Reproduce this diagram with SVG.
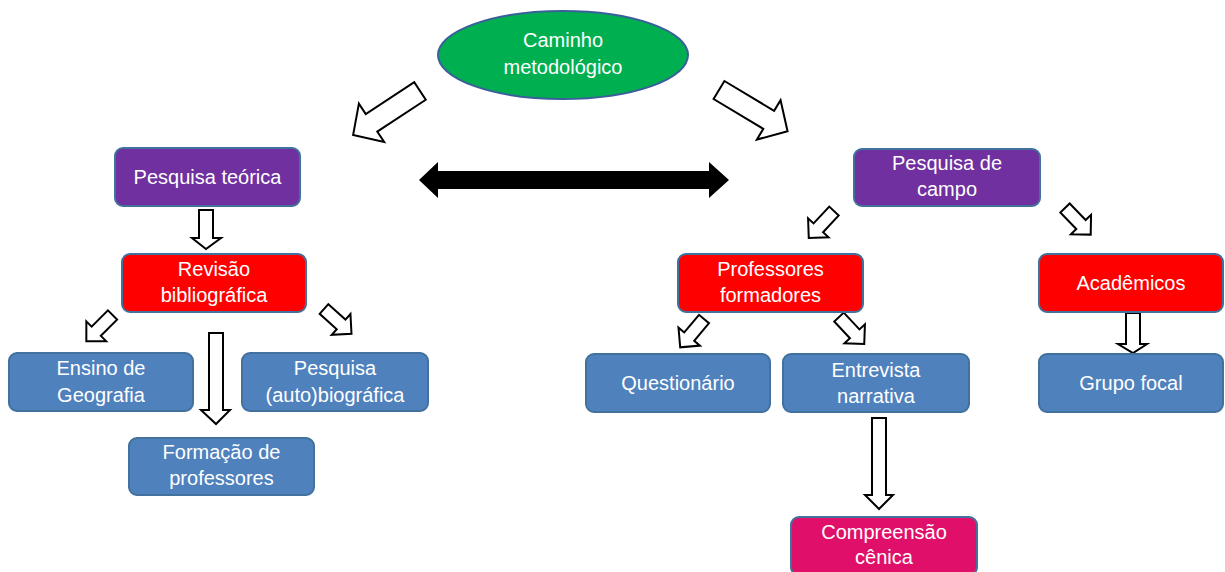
<svg xmlns="http://www.w3.org/2000/svg" width="1225" height="572" viewBox="0 0 1225 572">
<style>
.box{stroke:#41719C;stroke-width:2}
.pur{fill:#7030A0}
.red{fill:#FF0000}
.blu{fill:#4F81BD}
.mag{fill:#E0106A}
.t{font-family:"Liberation Sans",Arial,sans-serif;font-size:20px;fill:#FFFFFF;text-anchor:middle}
.ba{fill:#FFFFFF;stroke:#000000;stroke-width:2;stroke-linejoin:miter}
</style>
<defs>
<path id="big" d="M0,-10.5 H58 V-23 L80,0 L58,23 V10.5 H0 Z"/>
<path id="small" d="M0,-6.5 H23 V-14 L37,0 L23,14 V6.5 H0 Z"/>
</defs>
<rect width="1225" height="572" fill="#FFFFFF"/>
<g id="connectors">
<use href="#big" class="ba" transform="translate(420,91) rotate(146.7)"/>
<use href="#big" class="ba" transform="translate(719,90) rotate(31)"/>
<path d="M419,180 L438,162 V171 H709 V162 L729,180 L709,198 V189 H438 V198 Z" fill="#000000"/>
<path class="ba" d="M199,210 H213 V238 H221 L206,249 L192,238 H199 Z"/>
<use href="#small" class="ba" transform="translate(112.5,315) rotate(135)"/>
<use href="#small" class="ba" transform="translate(324,309) rotate(42)"/>
<path class="ba" d="M209,333 H223 V410 H230 L216,424 L201,410 H209 Z"/>
<use href="#small" class="ba" transform="translate(834,211) rotate(133)"/>
<use href="#small" class="ba" transform="translate(1065,208) rotate(46)"/>
<use href="#small" class="ba" transform="translate(704,319) rotate(130)"/>
<use href="#small" class="ba" transform="translate(839,317) rotate(47)"/>
<path class="ba" d="M1126,313 H1140 V344 H1147 L1133,353 L1118,344 H1126 Z"/>
<path class="ba" d="M872,418 H886 V495 H893 L879,509 L865,495 H872 Z"/>
</g>
<g id="n_caminho">
<ellipse cx="563" cy="55" rx="125" ry="44" fill="#00B050" stroke="#3A5F9A" stroke-width="2"/>
<text class="t" x="563" y="47">Caminho</text>
<text class="t" x="563" y="74">metodológico</text>
</g>
<g id="n_teorica">
<rect class="box pur" x="115" y="148" width="185" height="58" rx="8"/>
<text class="t" x="207.5" y="184">Pesquisa teórica</text>
</g>
<g id="n_revisao">
<rect class="box red" x="122" y="254" width="184" height="58" rx="8"/>
<text class="t" x="214" y="276">Revisão</text>
<text class="t" x="214" y="302">bibliográfica</text>
</g>
<g id="n_ensino">
<rect class="box blu" x="9" y="353" width="184" height="58" rx="8"/>
<text class="t" x="101" y="375">Ensino de</text>
<text class="t" x="101" y="402">Geografia</text>
</g>
<g id="n_autobio">
<rect class="box blu" x="242" y="353" width="186" height="58" rx="8"/>
<text class="t" x="335" y="375">Pesquisa</text>
<text class="t" x="335" y="402">(auto)biográfica</text>
</g>
<g id="n_formacao">
<rect class="box blu" x="129" y="438" width="185" height="57" rx="8"/>
<text class="t" x="221.5" y="459">Formação de</text>
<text class="t" x="221.5" y="485">professores</text>
</g>
<g id="n_campo">
<rect class="box pur" x="854" y="149" width="186" height="57" rx="8"/>
<text class="t" x="947" y="170">Pesquisa de</text>
<text class="t" x="947" y="196">campo</text>
</g>
<g id="n_professores">
<rect class="box red" x="678" y="254" width="185" height="58" rx="8"/>
<text class="t" x="770.5" y="276">Professores</text>
<text class="t" x="770.5" y="302">formadores</text>
</g>
<g id="n_academicos">
<rect class="box red" x="1039" y="254" width="184" height="58" rx="8"/>
<text class="t" x="1131" y="290">Acadêmicos</text>
</g>
<g id="n_questionario">
<rect class="box blu" x="586" y="354" width="184" height="58" rx="8"/>
<text class="t" x="678" y="390">Questionário</text>
</g>
<g id="n_entrevista">
<rect class="box blu" x="783" y="354" width="186" height="58" rx="8"/>
<text class="t" x="876" y="377">Entrevista</text>
<text class="t" x="876" y="403">narrativa</text>
</g>
<g id="n_grupo">
<rect class="box blu" x="1039" y="354" width="184" height="58" rx="8"/>
<text class="t" x="1131" y="390">Grupo focal</text>
</g>
<g id="n_compreensao">
<rect class="box mag" x="791" y="517" width="186" height="58" rx="8"/>
<text class="t" x="884" y="539">Compreensão</text>
<text class="t" x="884" y="564">cênica</text>
</g>
</svg>
